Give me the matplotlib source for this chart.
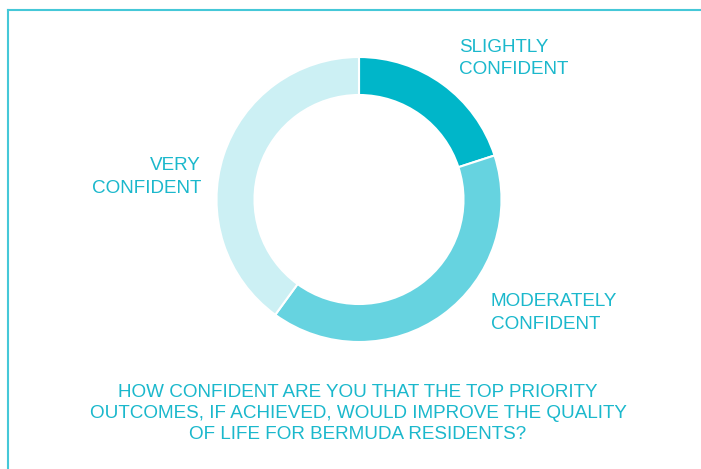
import matplotlib
matplotlib.use('Agg')
import matplotlib.pyplot as plt
from matplotlib.lines import Line2D

plt.rcParams['font.family'] = ['Liberation Sans', 'DejaVu Sans']

labels = ['SLIGHTLY\nCONFIDENT', 'MODERATELY\nCONFIDENT', 'VERY\nCONFIDENT']
shares = [20, 40, 40]
colors = ['#00b6c9', '#66d3e0', '#ccf0f4']
question = ('HOW CONFIDENT ARE YOU THAT THE TOP PRIORITY\n'
            'OUTCOMES, IF ACHIEVED, WOULD IMPROVE THE QUALITY\n'
            'OF LIFE FOR BERMUDA RESIDENTS?')

text_color = '#1bb8cc'
frame_color = '#45c8d8'

W, H = 701, 469
fig = plt.figure(figsize=(W / 100, H / 100), dpi=100)

# donut, centre and radius in pixels
cx, cy, r = 359, 199.5, 142.5
ax = fig.add_axes([(cx - r) / W, (H - cy - r) / H, 2 * r / W, 2 * r / H])
ax.pie(shares, colors=colors, startangle=90, counterclock=False, radius=1,
       wedgeprops=dict(width=38 / r, edgecolor='white', linewidth=1.5))
ax.set_xlim(-1, 1)
ax.set_ylim(-1, 1)
ax.set_aspect('equal')
ax.axis('off')

# frame lines (top and left)
fig.add_artist(Line2D([8 / W, 1], [1 - 10 / H, 1 - 10 / H], color=frame_color, lw=1.5,
                      transform=fig.transFigure))
fig.add_artist(Line2D([8 / W, 8 / W], [0, 1 - 10 / H], color=frame_color, lw=1.5,
                      transform=fig.transFigure))

def px(x, y):
    return x / W, 1 - y / H

fs = 13.6
fig.text(*px(459, 58.5), labels[0], color=text_color, fontsize=fs, ha='left', va='center',
         linespacing=1.45)
fig.text(*px(491, 313), labels[1], color=text_color, fontsize=fs, ha='left', va='center',
         linespacing=1.45)
fig.text(*px(201, 177), labels[2], color=text_color, fontsize=fs, ha='right', va='center',
         multialignment='right', linespacing=1.45)
fig.text(*px(358, 413.5), question, color=text_color, fontsize=13.6, ha='center', va='center',
         multialignment='center', linespacing=1.31)

fig.savefig('out.png', dpi=100)
